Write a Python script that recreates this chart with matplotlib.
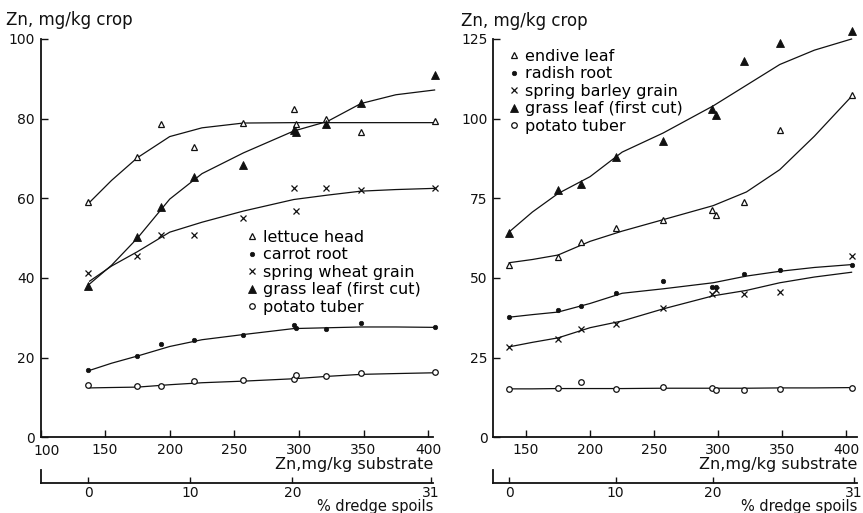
import matplotlib
matplotlib.use('Agg')
import matplotlib.pyplot as plt
from matplotlib.transforms import ScaledTranslation

plt.rcParams['font.family'] = ['DejaVu Sans']

# ---------------- data: left panel ----------------
left_zn = [137, 175, 193, 219, 257, 296, 298, 321, 348, 405]
lettuce_head = [59.0, 70.4, 78.6, 72.9, 78.9, 82.4, 78.6, 79.9, 76.7, 79.5]
carrot_root = [16.8, 20.4, 23.4, 24.4, 25.6, 28.1, 27.5, 27.3, 28.6, 27.6]
spring_wheat = [41.2, 45.5, 50.8, 50.8, 55.0, 62.5, 56.8, 62.6, 62.0, 62.5]
grass_left = [37.9, 50.3, 57.8, 65.3, 68.3, 77.1, 76.6, 78.6, 84.0, 91.0]
potato_left = [13.1, 12.8, 12.8, 14.1, 14.5, 14.7, 15.7, 15.3, 16.2, 16.3]

curve_zn_left = [138, 155, 175, 200, 225, 257, 296, 322, 348, 375, 405]
lettuce_curve = [59.0, 64.5, 70.2, 75.5, 77.7, 78.9, 79.0, 79.0, 79.0, 79.0, 79.0]
carrot_curve = [16.8, 18.6, 20.4, 22.8, 24.5, 25.8, 27.3, 27.5, 27.7, 27.7, 27.6]
wheat_curve = [39.2, 43.0, 46.6, 51.5, 54.0, 56.8, 59.7, 60.8, 61.8, 62.2, 62.5]
grass_left_curve = [38.5, 43.2, 50.0, 59.8, 66.2, 71.4, 76.9, 79.3, 83.8, 86.0, 87.2]
potato_left_curve = [12.4, 12.5, 12.6, 13.2, 13.7, 14.1, 14.7, 15.3, 15.8, 16.0, 16.2]

# ---------------- data: right panel ----------------
right_zn = [137, 175, 193, 220, 257, 295, 298, 320, 348, 404]
endive_leaf = [54.0, 56.5, 61.3, 65.7, 68.3, 71.2, 69.9, 73.7, 96.3, 107.4]
radish_root = [37.7, 39.8, 41.2, 45.4, 49.2, 47.1, 47.1, 51.4, 52.5, 54.2]
spring_barley = [28.4, 31.0, 33.9, 35.5, 40.5, 44.9, 46.1, 45.1, 45.7, 56.8]
grass_right = [64.2, 77.5, 79.6, 87.9, 93.0, 103.1, 101.0, 118.1, 123.6, 127.6]
potato_right = [15.3, 15.4, 17.2, 15.3, 15.8, 15.4, 14.8, 14.8, 15.3, 15.6]

curve_zn_right = [137, 155, 175, 200, 225, 257, 296, 322, 348, 375, 404]
endive_curve = [54.8, 55.8, 57.2, 61.5, 64.7, 68.3, 72.7, 77.0, 84.0, 94.5, 107.0]
radish_curve = [37.7, 38.5, 39.3, 42.0, 45.2, 46.6, 48.5, 50.6, 52.1, 53.3, 54.2]
barley_curve = [28.4, 29.8, 31.2, 34.4, 36.5, 40.3, 44.4, 46.1, 48.5, 50.3, 51.8]
grass_right_curve = [64.5, 70.7, 76.5, 81.8, 89.5, 95.5, 104.0, 110.5, 117.0, 121.5, 125.0]
potato_right_curve = [15.2, 15.2, 15.3, 15.3, 15.3, 15.4, 15.4, 15.4, 15.5, 15.5, 15.6]

# ---------------- axis ticks ----------------
left_yticks = [0, 20, 40, 60, 80, 100]
right_yticks = [0, 25, 50, 75, 100, 125]
left_xticks = [100, 150, 200, 250, 300, 350, 400]
right_xticks = [150, 200, 250, 300, 350, 400]
dredge_pct = ['0', '10', '20', '31']
dredge_zn_left = [137, 216, 295, 402]
dredge_zn_right = [137, 220, 296, 406]

left_labels = ['lettuce head', 'carrot root', 'spring wheat grain',
               'grass leaf (first cut)', 'potato tuber']
right_labels = ['endive leaf', 'radish root', 'spring barley grain',
                'grass leaf (first cut)', 'potato tuber']

W, H = 863, 513
fig = plt.figure(figsize=(W / 100, H / 100), dpi=100)
fig.patch.set_facecolor('white')


def rect(x0, x1, y_top, y_bot):
    return [x0 / W, 1 - y_bot / H, (x1 - x0) / W, (y_bot - y_top) / H]


INK = '#111111'
FS = 10
LFS = 11.5

styles = [
    dict(marker='^', mfc='white', mec=INK, ms=5, mew=0.9),   # open triangle
    dict(marker='o', mfc=INK, mec=INK, ms=3.2, mew=0.5),     # dot
    dict(marker='x', mfc=INK, mec=INK, ms=4, mew=0.9),       # cross
    dict(marker='^', mfc=INK, mec=INK, ms=5.5, mew=0.6),     # filled triangle
    dict(marker='o', mfc='white', mec=INK, ms=4, mew=0.9),   # open circle
]


def panel(axrect, xlim, ylim, xticks, yticks, zn, series, czn, curves,
          labels, leg_anchor, dredge_zn, sec_x0, sec_x1, lab_right):
    ax = fig.add_axes(axrect)
    ax.set_xlim(*xlim)
    ax.set_ylim(*ylim)
    for s in ['top', 'right']:
        ax.spines[s].set_visible(False)
    for s in ['left', 'bottom']:
        ax.spines[s].set_linewidth(1.3)
        ax.spines[s].set_color(INK)
    ax.set_xticks(xticks)
    ax.set_yticks(yticks)
    ax.tick_params(direction='in', length=5, width=1.0, colors=INK,
                   labelsize=FS, pad=4)
    handles = []
    for ys, cy, st, lab in zip(series, curves, styles, labels):
        ax.plot(czn, cy, color=INK, lw=0.9, clip_on=False, zorder=2)
        h, = ax.plot(zn, ys, ls='none', clip_on=False, zorder=3, **st)
        handles.append(h)
    ax.legend(handles, labels, loc='upper left', bbox_to_anchor=leg_anchor,
              bbox_transform=fig.transFigure, frameon=False, fontsize=LFS,
              borderpad=0, borderaxespad=0, handlelength=0.8,
              handletextpad=0.3, labelspacing=0.15)
    fig.text(lab_right / W, 1 - 465 / H, 'Zn,mg/kg substrate', ha='right',
             va='center', fontsize=LFS, color=INK)

    # secondary axis: % dredge spoils
    ax2 = fig.add_axes(rect(sec_x0, sec_x1, 470, 483))
    ax2.set_xlim(*xlim)
    ax2.set_ylim(0, 1)
    ax2.patch.set_alpha(0)
    for s in ['top', 'right']:
        ax2.spines[s].set_visible(False)
    for s in ['left', 'bottom']:
        ax2.spines[s].set_linewidth(1.3)
        ax2.spines[s].set_color(INK)
    ax2.set_yticks([])
    ax2.set_xticks(dredge_zn)
    ax2.set_xticklabels(dredge_pct)
    ax2.tick_params(axis='x', direction='in', length=4, width=1.0,
                    colors=INK, labelsize=FS, pad=2)
    fig.text(lab_right / W, 1 - 506 / H, '% dredge spoils', ha='right',
             va='center', fontsize=10.5, color=INK)
    return ax


axL = panel(rect(40.5, 433.3, 39, 437.3), (100, 404), (0, 100), left_xticks,
            left_yticks, left_zn,
            [lettuce_head, carrot_root, spring_wheat, grass_left, potato_left],
            curve_zn_left,
            [lettuce_curve, carrot_curve, wheat_curve, grass_left_curve,
             potato_left_curve],
            left_labels, (245.6 / W, 1 - 230 / H), dredge_zn_left,
            40.5, 433.3, 433)
# nudge the "100" x label right so it clears the "0" y label (as in reference)
lbl = axL.get_xticklabels()[0]
lbl.set_transform(lbl.get_transform() + ScaledTranslation(6 / 100, -1 / 100,
                                                          fig.dpi_scale_trans))

panel(rect(493.3, 856.7, 39, 437.3), (124.5, 408), (0, 125), right_xticks,
      right_yticks, right_zn,
      [endive_leaf, radish_root, spring_barley, grass_right, potato_right],
      curve_zn_right,
      [endive_curve, radish_curve, barley_curve, grass_right_curve,
       potato_right_curve],
      right_labels, (507.6 / W, 1 - 49 / H), dredge_zn_right,
      493.3, 856.7, 857)

fig.text(6 / W, 1 - 20 / H, 'Zn, mg/kg crop', ha='left', va='center',
         fontsize=12, color=INK)
fig.text(461 / W, 1 - 21.5 / H, 'Zn, mg/kg crop', ha='left', va='center',
         fontsize=12, color=INK)

fig.savefig('out.png', dpi=100, facecolor='white')
